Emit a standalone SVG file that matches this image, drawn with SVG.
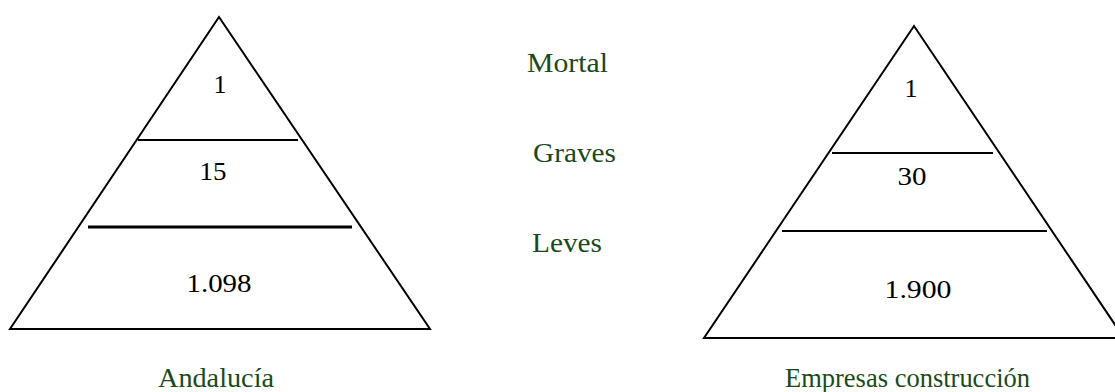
<svg xmlns="http://www.w3.org/2000/svg" width="1115" height="392" viewBox="0 0 1115 392">
<style>
.tri{fill:none;stroke:#000;stroke-width:2;stroke-linejoin:miter}
.div{stroke:#000;stroke-width:2}
text{font-family:'Liberation Serif','Times New Roman','DejaVu Serif',serif;font-size:26px}
.num{fill:#000;text-anchor:middle}
.lab{fill:#1a4a1a;font-size:27px}
</style>
<rect width="1115" height="392" fill="#fff"/>
<g id="pyramid-andalucia">
<polygon class="tri" points="219,17 430,329 10,329"/>
<line class="div" x1="138" y1="140" x2="298" y2="140"/>
<line class="div" x1="88" y1="227" x2="352" y2="227" style="stroke-width:3"/>
<text class="num" x="220" y="93">1</text>
<text class="num" x="213" y="180" textLength="27" lengthAdjust="spacingAndGlyphs">15</text>
<text class="num" x="219" y="292" textLength="65" lengthAdjust="spacingAndGlyphs">1.098</text>
<text class="lab" x="158" y="387" textLength="116" lengthAdjust="spacingAndGlyphs">Andalucía</text>
</g>
<g id="pyramid-empresas">
<polygon class="tri" points="914,26 1124,338 704,338"/>
<line class="div" x1="832" y1="153" x2="993" y2="153"/>
<line class="div" x1="782" y1="231" x2="1047" y2="231"/>
<text class="num" x="911" y="97">1</text>
<text class="num" x="912" y="185" textLength="29" lengthAdjust="spacingAndGlyphs">30</text>
<text class="num" x="918" y="298" textLength="67" lengthAdjust="spacingAndGlyphs">1.900</text>
<text class="lab" x="785" y="387" textLength="245" lengthAdjust="spacingAndGlyphs">Empresas construcción</text>
</g>
<g id="levels">
<text class="lab" x="527" y="72" textLength="81" lengthAdjust="spacingAndGlyphs">Mortal</text>
<text class="lab" x="533" y="162" textLength="83" lengthAdjust="spacingAndGlyphs">Graves</text>
<text class="lab" x="532" y="252" textLength="70" lengthAdjust="spacingAndGlyphs">Leves</text>
</g>
<g id="connectors"></g>
</svg>
